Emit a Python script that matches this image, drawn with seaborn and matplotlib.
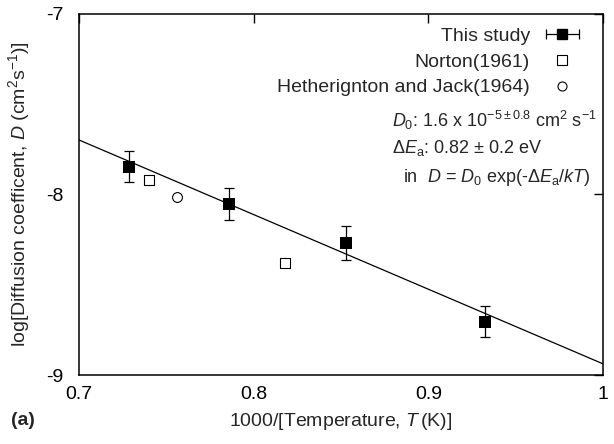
import numpy as np
import pandas as pd
import matplotlib
matplotlib.use("Agg")
import matplotlib.pyplot as plt
from matplotlib.legend_handler import HandlerErrorbar
import seaborn as sns

sns.set_style("white")
plt.rcParams['font.family'] = ['Liberation Sans', 'DejaVu Sans']
plt.rcParams['mathtext.fontset'] = 'custom'
plt.rcParams['mathtext.rm'] = 'Liberation Sans'
plt.rcParams['mathtext.it'] = 'Liberation Sans:italic'
plt.rcParams['mathtext.bf'] = 'Liberation Sans:bold'

FS = 14

# this study
study_x = [0.7286, 0.7859, 0.8527, 0.9324]
study_y = [-7.846, -8.053, -8.267, -8.705]
study_err = [0.087, 0.087, 0.095, 0.087]

# Norton (1961)
norton_x = [0.7402, 0.8177]
norton_y = [-7.921, -8.378]

# Hetherington and Jack (1964)
hj_x = [0.7559]
hj_y = [-8.014]

# fitted line
fit_x = [0.7, 1.0]
fit_y = [-7.698, -8.938]

study = pd.DataFrame({'x': study_x, 'y': study_y, 'err': study_err})
norton = pd.DataFrame({'x': norton_x, 'y': norton_y})
hj = pd.DataFrame({'x': hj_x, 'y': hj_y})
fit = pd.DataFrame({'x': fit_x, 'y': fit_y})

fig = plt.figure(figsize=(6.14, 4.44), dpi=100)
ax = fig.add_axes([0.1287, 0.1554, 0.8533, 0.8131])

sns.lineplot(data=fit, x='x', y='y', color='black', linewidth=0.9, ax=ax, legend=False)
ax.errorbar(study['x'], study['y'], yerr=study['err'], fmt='none', ecolor='black',
            elinewidth=0.9, capsize=3.5, capthick=0.9)
sns.scatterplot(data=study, x='x', y='y', marker='s', s=65, color='black',
                edgecolor='black', linewidth=0, ax=ax, zorder=4)
sns.scatterplot(data=norton, x='x', y='y', marker='s', s=45, facecolor='white',
                edgecolor='black', linewidth=0.8, ax=ax, zorder=4)
sns.scatterplot(data=hj, x='x', y='y', marker='o', s=50, facecolor='white',
                edgecolor='black', linewidth=0.8, ax=ax, zorder=4)

# legend handles
h1 = ax.errorbar([np.nan], [np.nan], xerr=[1], fmt='s', color='black', markersize=7,
                 elinewidth=0.9, capsize=3.5, capthick=0.9)
h2, = ax.plot([], [], 's', markerfacecolor='white', markeredgecolor='black',
              markersize=6.5, markeredgewidth=0.8)
h3, = ax.plot([], [], 'o', markerfacecolor='white', markeredgecolor='black',
              markersize=6.5, markeredgewidth=0.8)
ax.legend([h1, h2, h3], ['This study', 'Norton(1961)', 'Hetherignton and Jack(1964)'],
          loc='upper right', frameon=False, markerfirst=False, fontsize=FS,
          handlelength=1.9, handletextpad=0.7, labelspacing=0.42,
          borderaxespad=0.0, bbox_to_anchor=(0.972, 0.985),
          handler_map={type(h1): HandlerErrorbar(xerr_size=0.85)})

ax.set_xlim(0.7, 1.0)
ax.set_ylim(-9, -7)
ax.set_xticks([0.7, 0.8, 0.9, 1.0])
ax.set_xticklabels(['0.7', '0.8', '0.9', '1'])
ax.set_yticks([-9, -8, -7])
ax.set_yticklabels(['-9', '-8', '-7'])
ax.tick_params(direction='in', length=6.5, width=1, top=True, right=True,
               labelsize=FS, colors='black')
ax.tick_params(axis='x', pad=8)
ax.tick_params(axis='y', pad=11)
for s in ax.spines.values():
    s.set_color('black')
    s.set_linewidth(1.1)

ax.set_xlabel('1000/[Temperature, $T\\,$(K)]', fontsize=FS, labelpad=6)
ax.set_ylabel('log[Diffusion coefficent, $D$ (cm$^2$s$^{-1}$)]', fontsize=FS, labelpad=10)
fig.text(0.018, 0.052, '(a)', fontsize=FS, fontweight='bold', va='center')

AFS = 13
ax.text(0.597, 0.706, '$D_0$: 1.6 x 10$^{-5 \\pm 0.8}$ cm$^2$ s$^{-1}$',
        transform=ax.transAxes, fontsize=AFS, va='center')
ax.text(0.597, 0.629, '$\\Delta E_{\\rm a}$: 0.82 $\\pm$ 0.2 eV',
        transform=ax.transAxes, fontsize=AFS, va='center')
ax.text(0.618, 0.546, 'in  $D$ = $D_0$ exp(-$\\Delta E_{\\rm a}/kT$)',
        transform=ax.transAxes, fontsize=AFS, va='center')

fig.savefig('out.png', dpi=100)
